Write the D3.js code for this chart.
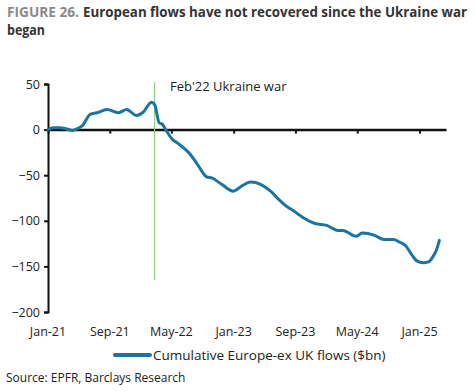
<!DOCTYPE html>
<html><head><meta charset="utf-8">
<script src="https://cdn.jsdelivr.net/npm/d3@7"></script>
<style>
body{margin:0;background:#fff;}
svg{display:block;}
text{font-family:"Open Sans","Noto Sans",sans-serif;}
</style></head>
<body><svg id="c" width="475" height="391"></svg>
<script>
const dates = ["2021-01-01","2021-01-21","2021-02-16","2021-03-12","2021-04-07","2021-04-26","2021-05-15","2021-06-17","2021-07-12","2021-08-21","2021-10-05","2021-11-06","2021-12-15","2022-01-10","2022-02-12","2022-02-25","2022-03-14","2022-03-27","2022-04-09","2022-05-05","2022-05-24","2022-07-14","2022-08-16","2022-09-18","2022-10-07","2022-11-15","2022-12-30","2023-02-01","2023-03-09","2023-04-17","2023-05-26","2023-06-27","2023-07-23","2023-09-01","2023-10-02","2023-11-17","2024-01-02","2024-02-15","2024-03-05","2024-04-26","2024-05-21","2024-07-06","2024-08-14","2024-09-22","2024-10-11","2024-11-06","2024-12-01","2024-12-21","2025-01-16","2025-02-05","2025-02-24","2025-03-07","2025-03-20"];
const flows = [0,2,2,1,-1,1,4,17,18.5,22,18.5,22,15.5,19,30,27,7.5,5.7,0,-10.7,-14.5,-27,-40,-52,-53,-60,-67.5,-62,-57.5,-60,-67.5,-76.5,-83,-90.5,-96.7,-103,-105,-110.5,-110.5,-117,-113.5,-115.7,-120.4,-120.4,-123,-127,-137,-144,-146,-145,-138.7,-133,-121.5];
const yTicks = [50,0,-50,-100,-150,-200];
const xTickLabels = ["Jan-21","Sep-21","May-22","Jan-23","Sep-23","May-24","Jan-25"];
const xTickDates = ["2021-01-01","2021-09-01","2022-05-01","2023-01-01","2023-09-01","2024-05-01","2025-01-01"];
const warDate = "2022-02-24";
const warLabel = "Feb'22 Ukraine war";
const seriesName = "Cumulative Europe-ex UK flows ($bn)";

const parse = d3.timeParse("%Y-%m-%d");
const svg = d3.select("#c");
const x = d3.scaleTime().domain([parse("2021-01-01"), parse("2025-04-15")]).range([48, 446]);
const y = d3.scaleLinear().domain([-200, 50]).range([312, 84]);

// title
svg.append("text").attr("x", 7).attr("y", 17).attr("font-size", 13.5).attr("font-weight", "bold").attr("fill", "#8a8a8a")
  .attr("font-family", "Lato").attr("textLength", 72).attr("lengthAdjust", "spacingAndGlyphs").text("FIGURE 26.");
svg.append("text").attr("x", 83).attr("y", 17).attr("font-size", 13.5).attr("font-weight", "bold").attr("fill", "#333")
  .attr("font-family", "Lato").attr("textLength", 384).attr("lengthAdjust", "spacingAndGlyphs")
  .text("European flows have not recovered since the Ukraine war");
svg.append("text").attr("x", 7).attr("y", 35).attr("font-size", 13.5).attr("font-weight", "bold").attr("fill", "#333")
  .attr("font-family", "Lato").attr("textLength", 38).attr("lengthAdjust", "spacingAndGlyphs").text("began");

// y axis
const ya = svg.append("g").attr("transform", "translate(48,0)")
  .call(d3.axisLeft(y).tickValues(yTicks).tickSize(4).tickPadding(4).tickFormat(d3.format("d")));
ya.select(".domain").attr("stroke", "#111").attr("stroke-width", 2);
ya.selectAll(".tick line").attr("stroke", "#111").attr("stroke-width", 2);
ya.selectAll("text").attr("font-size", 12.5).attr("fill", "#222").attr("font-family", "Open Sans");

// x axis at zero
const xa = svg.append("g").attr("transform", `translate(0,${y(0)})`)
  .call(d3.axisBottom(x).tickValues(xTickDates.map(parse)).tickSize(4).tickSizeOuter(0).tickFormat(""));
xa.select(".domain").attr("stroke", "#111").attr("stroke-width", 2.5);
xa.selectAll(".tick line").attr("stroke", "#111").attr("stroke-width", 2);

// x labels at bottom
svg.append("g").selectAll("text").data(xTickDates).join("text")
  .attr("x", d => x(parse(d))).attr("y", 336).attr("text-anchor", "middle")
  .attr("font-size", 12.5).attr("fill", "#222").text((d, i) => xTickLabels[i]);

// war line
svg.append("line").attr("x1", x(parse(warDate))).attr("x2", x(parse(warDate)))
  .attr("y1", y(52)).attr("y2", y(-165)).attr("stroke", "#8fce7f").attr("stroke-width", 1.2);
svg.append("text").attr("x", 170).attr("y", 91).attr("font-size", 13).attr("fill", "#222").text(warLabel);

// series line
const data = dates.map((d, i) => ({d: parse(d), v: flows[i]}));
svg.append("path").datum(data)
  .attr("fill", "none").attr("stroke", "#1b75a0").attr("stroke-width", 3).attr("stroke-linejoin", "round").attr("stroke-linecap", "round")
  .attr("d", d3.line().x(d => x(d.d)).y(d => y(d.v)).curve(d3.curveMonotoneX));

// legend
svg.append("line").attr("x1", 115).attr("x2", 150).attr("y1", 355).attr("y2", 355)
  .attr("stroke", "#1b75a0").attr("stroke-width", 4).attr("stroke-linecap", "round");
svg.append("text").attr("x", 153).attr("y", 360).attr("font-size", 13.5).attr("fill", "#222").text(seriesName);

// source
svg.append("text").attr("x", 6).attr("y", 382).attr("font-size", 12).attr("fill", "#222").text("Source: EPFR, Barclays Research");
</script></body></html>
